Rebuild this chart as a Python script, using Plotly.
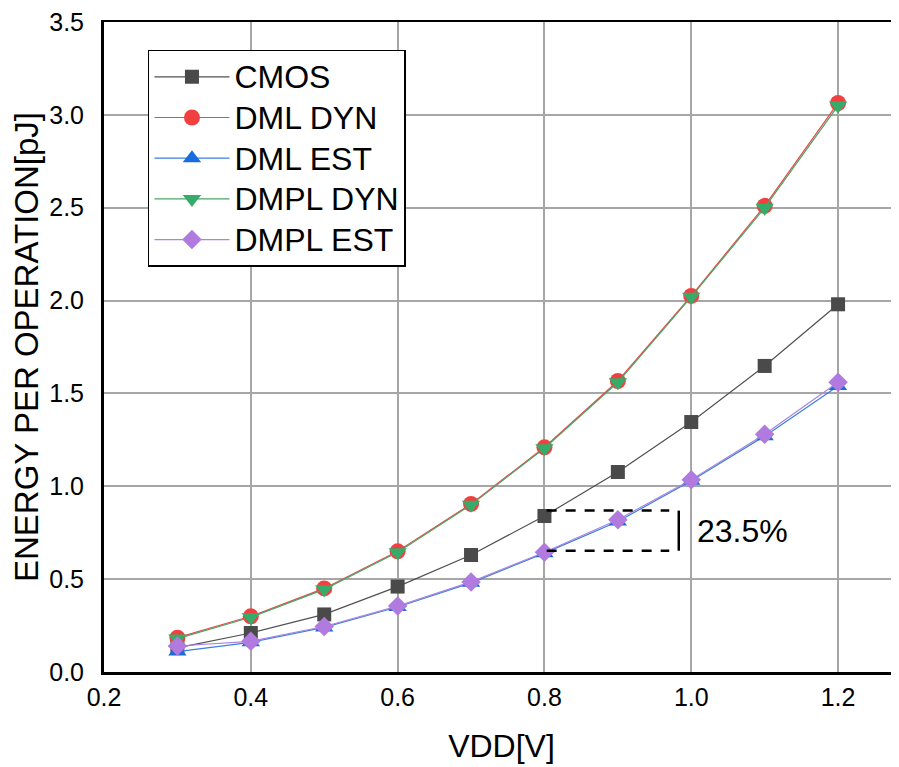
import plotly.graph_objects as go

vdd = [0.3, 0.4, 0.5, 0.6, 0.7, 0.8, 0.9, 1.0, 1.1, 1.2]
cmos = [0.13, 0.21, 0.31, 0.46, 0.63, 0.84, 1.077, 1.346, 1.648, 1.98]
dml_dyn = [0.185, 0.30, 0.45, 0.65, 0.905, 1.21, 1.567, 2.025, 2.51, 3.064]
dml_est = [0.11, 0.16, 0.24, 0.35, 0.48, 0.64, 0.81, 1.03, 1.27, 1.54]
dmpl_dyn = [0.18, 0.295, 0.445, 0.645, 0.90, 1.205, 1.56, 2.02, 2.50, 3.05]
dmpl_est = [0.14, 0.165, 0.245, 0.355, 0.485, 0.645, 0.82, 1.035, 1.28, 1.56]

# annotation bracket (data coords)
bracket_x = [0.803, 0.97]
bracket_y = [0.869, 0.653]
bar_x = 0.983
label_text = "23.5%"
label_pos = [1.005, 0.76]

FONT = "Liberation Sans, Arial, sans-serif"

series = [
    ("CMOS", cmos, "#505050", "#4a4a4a", "square", 14),
    ("DML DYN", dml_dyn, "#f04848", "#f04040", "circle", 16),
    ("DML EST", dml_est, "#3a7fe0", "#1a6be0", "triangle-up", 16),
    ("DMPL DYN", dmpl_dyn, "#4aa468", "#37ab69", "triangle-down", 16),
    ("DMPL EST", dmpl_est, "#a984e0", "#b07ade", "diamond", 15),
]

fig = go.Figure()
for name, ys, lc, mc, sym, sz in series:
    fig.add_trace(go.Scatter(
        x=vdd, y=ys, name='<span style="font-size:32px">' + name + '</span>',
        mode="lines+markers",
        line=dict(color=lc, width=1.2),
        marker=dict(symbol=sym, size=sz, color=mc, line=dict(width=0)),
    ))

# invisible trace carrying a top x axis for the top border line
fig.add_trace(go.Scatter(x=[None], y=[None], xaxis="x2", showlegend=False, hoverinfo="skip"))

# dashed bracket lines
for yy in bracket_y:
    fig.add_shape(type="line", xref="x", yref="y",
                  x0=bracket_x[0], x1=bracket_x[1], y0=yy, y1=yy,
                  line=dict(color="black", width=2.5, dash="10px,9px"))
fig.add_shape(type="line", xref="x", yref="y",
              x0=bar_x, x1=bar_x, y0=bracket_y[0], y1=bracket_y[1],
              line=dict(color="black", width=2.5))

fig.add_annotation(x=label_pos[0], y=label_pos[1], xref="x", yref="y",
                   text=label_text, showarrow=False, xanchor="left", yanchor="middle",
                   font=dict(family=FONT, size=32, color="black"))

fig.update_layout(
    width=891, height=759,
    margin=dict(l=96, r=0, t=14, b=95, autoexpand=False),
    paper_bgcolor="white", plot_bgcolor="white",
    font=dict(family=FONT, color="black"),
    showlegend=True,
    legend=dict(
        x=0.0553, y=0.957, xanchor="left", yanchor="top",
        bgcolor="white", bordercolor="black", borderwidth=1.5,
        font=dict(family=FONT, size=29, color="black"),
        itemwidth=75, tracegroupgap=0,
    ),
    xaxis=dict(
        range=[0.2, 1.283], tickvals=[0.2, 0.4, 0.6, 0.8, 1.0, 1.2],
        ticktext=["0.2", "0.4", "0.6", "0.8", "1.0", "1.2"],
        showgrid=True, gridcolor="#a6a6a6", gridwidth=2,
        showline=True, linecolor="black", linewidth=3,
        zeroline=False, ticks="", ticklabelstandoff=1,
        ticklabeloverflow="allow",
        tickfont=dict(family=FONT, size=25, color="black"),
        title=dict(text="VDD[V]", font=dict(family=FONT, size=32, color="black"), standoff=25),
    ),
    xaxis2=dict(
        overlaying="x", side="top", range=[0.2, 1.283],
        showgrid=False, showticklabels=False, ticks="", zeroline=False,
        showline=True, linecolor="black", linewidth=1.5,
    ),
    yaxis=dict(
        range=[0, 3.5], tickvals=[0, 0.5, 1.0, 1.5, 2.0, 2.5, 3.0, 3.5],
        ticktext=["0.0", "0.5", "1.0", "1.5", "2.0", "2.5", "3.0", "3.5"],
        showgrid=True, gridcolor="#a6a6a6", gridwidth=2,
        showline=True, linecolor="black", linewidth=3,
        zeroline=False, ticks="", ticklabelstandoff=12,
        ticklabeloverflow="allow",
        tickfont=dict(family=FONT, size=25, color="black"),
        title=dict(text="ENERGY PER OPERATION[pJ]", font=dict(family=FONT, size=33, color="black"), standoff=3),
    ),
)

fig.write_html("out.html")
